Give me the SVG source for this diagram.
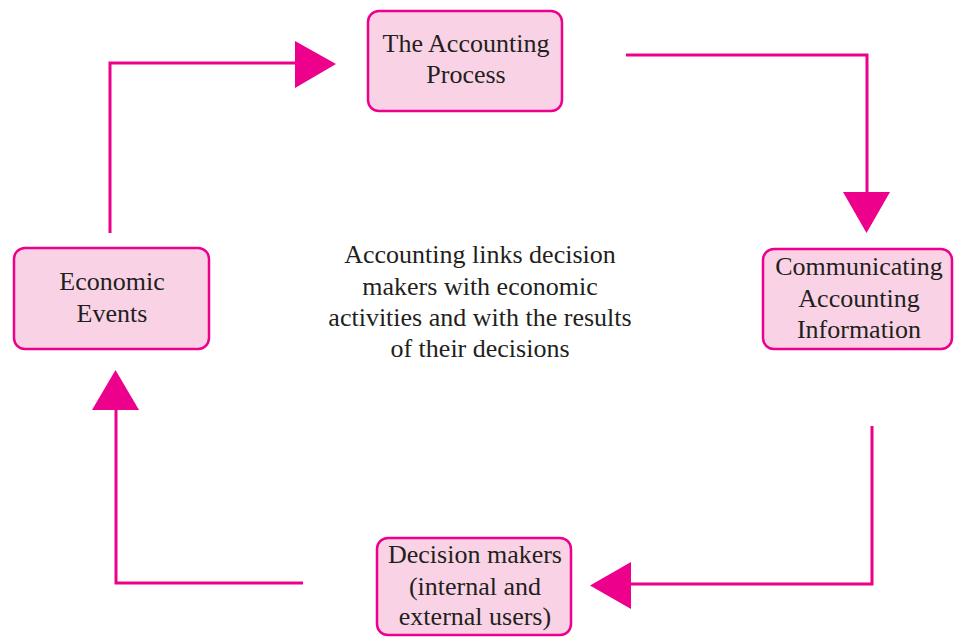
<svg xmlns="http://www.w3.org/2000/svg" width="954" height="637" viewBox="0 0 954 637">
<style>
.box{fill:#F9D3E5;stroke:#EC008C;stroke-width:2.5}
.t{font-family:"Liberation Serif","Times New Roman",serif;font-size:26px;fill:#231F20;text-anchor:middle}
.ln{fill:none;stroke:#EC008C;stroke-width:3}
.ah{fill:#EC008C}
</style>
<rect width="954" height="637" fill="#FFFFFF"/>
<g id="connectors">
<polyline class="ln" points="110,233 110,63 297,63"/>
<polygon class="ah" points="295,41 336,64 295,88"/>
<polyline class="ln" points="626,55 867,55 867,194"/>
<polygon class="ah" points="843,192 890,192 866.5,233"/>
<polyline class="ln" points="872,426 872,584 629,584"/>
<polygon class="ah" points="631,562 631,609 590,585.5"/>
<polyline class="ln" points="303,583 116,583 116,408"/>
<polygon class="ah" points="92,410 139,410 115.5,370"/>
</g>
<g id="accounting-process">
<rect class="box" x="368" y="11" width="194" height="100" rx="11"/>
<text class="t" x="466" y="52">The Accounting</text>
<text class="t" x="466" y="83">Process</text>
</g>
<g id="communicating">
<rect class="box" x="763" y="249" width="189" height="100" rx="11"/>
<text class="t" x="859" y="275">Communicating</text>
<text class="t" x="859" y="307">Accounting</text>
<text class="t" x="859" y="338">Information</text>
</g>
<g id="economic-events">
<rect class="box" x="14" y="248" width="195" height="101" rx="11"/>
<text class="t" x="112" y="290">Economic</text>
<text class="t" x="112" y="322">Events</text>
</g>
<g id="decision-makers">
<rect class="box" x="377" y="538" width="194" height="97" rx="11"/>
<text class="t" x="475" y="563">Decision makers</text>
<text class="t" x="475" y="595">(internal and</text>
<text class="t" x="475" y="625">external users)</text>
</g>
<g id="center-note">
<text class="t" x="480" y="263">Accounting links decision</text>
<text class="t" x="480" y="295">makers with economic</text>
<text class="t" x="480" y="326">activities and with the results</text>
<text class="t" x="480" y="357">of their decisions</text>
</g>
</svg>
